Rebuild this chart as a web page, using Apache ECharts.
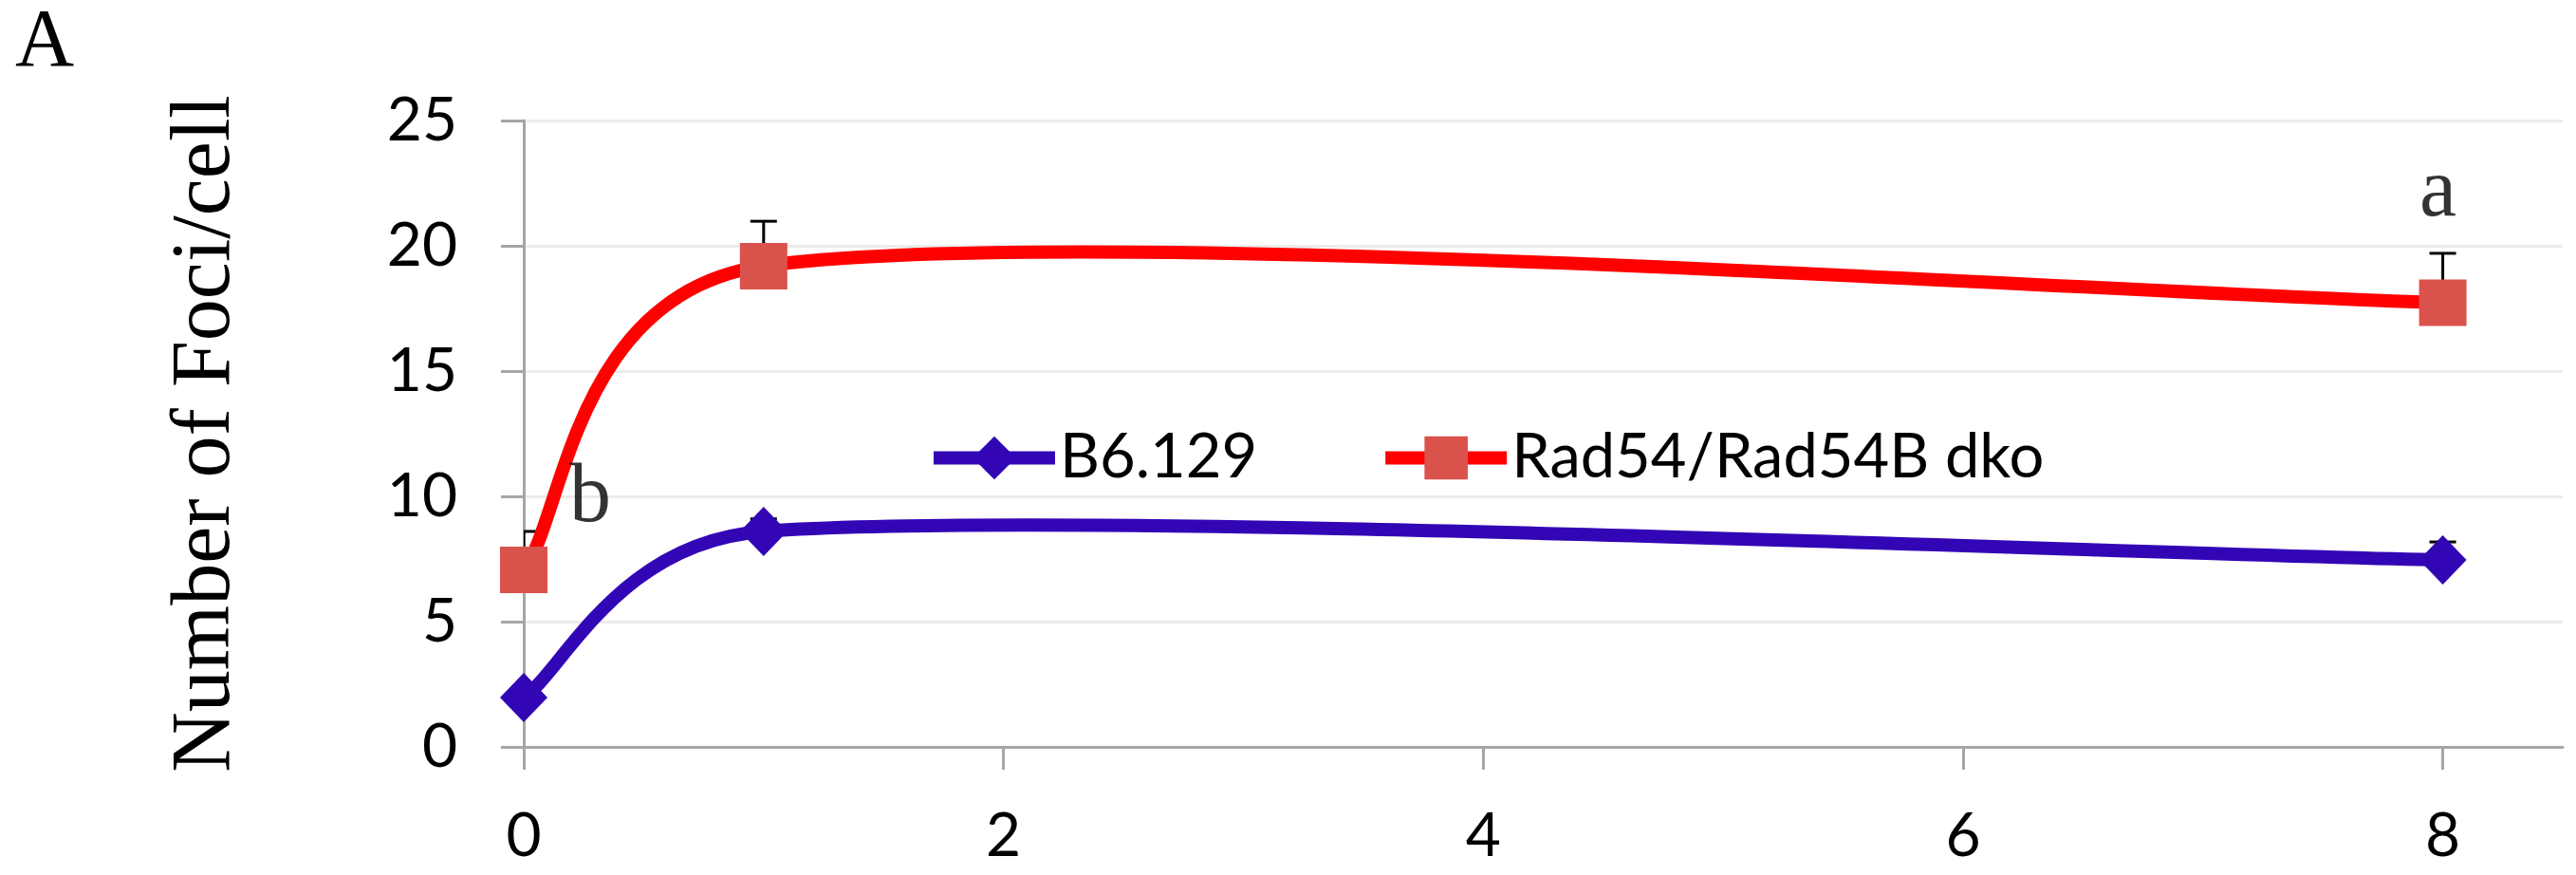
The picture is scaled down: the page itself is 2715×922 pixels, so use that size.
<!DOCTYPE html>
<html><head><meta charset="utf-8">
<script src="https://cdn.jsdelivr.net/npm/echarts@6/dist/echarts.min.js"></script>
<style>html,body{margin:0;padding:0;background:#fff}#c{width:2715px;height:922px}</style>
</head><body><div id="c"></div>
<script>
// ---- data ----
const timePoints = [0, 1, 8];
const seriesNames = ['B6.129', 'Rad54/Rad54B dko'];
const b6Mean = [1.97, 8.6, 7.46];
const b6Upper = [2.4, 9.1, 8.18];
const dkoMean = [7.06, 19.19, 17.73];
const dkoUpper = [8.6, 20.98, 19.7];
const xTicks = [0, 2, 4, 6, 8];
const annotText = ['a', 'b'];
const annotX = [7.98, 0.277];
const annotY = [22.1, 9.9];

const BLUE = '#3306B5', RED_LINE = '#FF0000', RED_MARK = '#DA524C';
const AXIS = '#A6A6A6', GRID = '#ECECEC';
const LABEL_FONT = 'Lato', SERIF = 'Liberation Serif';

function pairs(xs, ys) { return xs.map((x, i) => [x, ys[i]]); }
function errData(xs, m, u) { return xs.map((x, i) => [x, m[i], u[i]]); }

// Excel-style smoothed line (Catmull-Rom Bezier, limited control arms)
function excelSmoothPath(pts) {
  const n = pts.length;
  const dist = (a, b) => Math.hypot(a[0] - b[0], a[1] - b[1]);
  let d = 'M' + pts[0][0] + ' ' + pts[0][1];
  for (let i = 0; i < n - 1; i++) {
    const p0 = pts[Math.max(i - 1, 0)], p1 = pts[i], p2 = pts[i + 1], p3 = pts[Math.min(i + 2, n - 1)];
    const d12 = dist(p1, p2), d02 = dist(p0, p2), d13 = dist(p1, p3);
    const f1 = d02 > 0 ? Math.min(1 / 6, d12 / (2 * d02)) : 0;
    const f2 = d13 > 0 ? Math.min(1 / 6, d12 / (2 * d13)) : 0;
    const c1 = [p1[0] + (p2[0] - p0[0]) * f1, p1[1] + (p2[1] - p0[1]) * f1];
    const c2 = [p2[0] - (p3[0] - p1[0]) * f2, p2[1] - (p3[1] - p1[1]) * f2];
    d += ' C' + c1[0] + ' ' + c1[1] + ' ' + c2[0] + ' ' + c2[1] + ' ' + p2[0] + ' ' + p2[1];
  }
  return d;
}

function curveSeries(name, ys, color) {
  return {
    type: 'custom', name: name + ' curve', z: 2, silent: true,
    data: [[timePoints[0], ys[0]]],
    renderItem: function (params, api) {
      const pts = timePoints.map((x, i) => api.coord([x, ys[i]]));
      return { type: 'path', shape: { pathData: excelSmoothPath(pts) },
        style: { fill: 'none', stroke: color, lineWidth: 14, lineCap: 'round', lineJoin: 'round' } };
    }
  };
}

function errorSeries(name, data) {
  return {
    type: 'custom', name: name + ' error', z: 1, silent: true, clip: true,
    encode: { x: 0, y: [1, 2] },
    data: data,
    renderItem: function (params, api) {
      const x = api.value(0);
      const lo = api.coord([x, api.value(1)]), hi = api.coord([x, api.value(2)]);
      const st = { stroke: '#000', lineWidth: 3 };
      return { type: 'group', children: [
        { type: 'line', shape: { x1: lo[0], y1: lo[1], x2: hi[0], y2: hi[1] }, style: st },
        { type: 'line', shape: { x1: hi[0] - 14, y1: hi[1], x2: hi[0] + 14, y2: hi[1] }, style: st }
      ] };
    }
  };
}

const chart = echarts.init(document.getElementById('c'), null, { renderer: 'canvas' });
chart.setOption({
  backgroundColor: '#fff',
  animation: false,
  grid: { left: 552, right: 14, top: 127, bottom: 135, containLabel: false },
  graphic: [{ type: 'text', left: 16, top: 3, style: { text: 'A', font: '86px "Liberation Serif"', fill: '#000' } }],
  legend: {
    left: 977, top: 450, orient: 'horizontal', padding: 0,
    itemWidth: 128, itemHeight: 57, itemGap: 128,
    data: [
      { name: seriesNames[0], lineStyle: { color: BLUE, width: 14, opacity: 1 } },
      { name: seriesNames[1], lineStyle: { color: RED_LINE, width: 14, opacity: 1 } }
    ],
    lineStyle: { width: 14, opacity: 1 },
    textStyle: { fontFamily: LABEL_FONT, fontSize: 65, color: '#000' }
  },
  xAxis: {
    type: 'value', min: 0, max: 8.5,
    axisLine: { show: true, onZero: false, lineStyle: { color: AXIS, width: 3 } },
    axisTick: { show: true, customValues: xTicks, length: 24, lineStyle: { color: AXIS, width: 3 } },
    axisLabel: { customValues: xTicks, margin: 62, fontFamily: LABEL_FONT, fontSize: 64, color: '#000' },
    splitLine: { show: false }
  },
  yAxis: {
    type: 'value', min: 0, max: 25, interval: 5,
    name: 'Number of Foci/cell', nameLocation: 'middle', nameRotate: 90, nameGap: 290,
    nameTextStyle: { fontFamily: SERIF, fontSize: 88, color: '#000' },
    axisLine: { show: true, lineStyle: { color: AXIS, width: 3 } },
    axisTick: { show: true, length: 24, lineStyle: { color: AXIS, width: 3 } },
    axisLabel: { margin: 70, fontFamily: LABEL_FONT, fontSize: 64, color: '#000' },
    splitLine: { show: true, lineStyle: { color: GRID, width: 3 } }
  },
  series: [
    errorSeries(seriesNames[0], errData(timePoints, b6Mean, b6Upper)),
    errorSeries(seriesNames[1], errData(timePoints, dkoMean, dkoUpper)),
    curveSeries(seriesNames[0], b6Mean, BLUE),
    curveSeries(seriesNames[1], dkoMean, RED_LINE),
    {
      type: 'line', name: seriesNames[0], z: 3, data: pairs(timePoints, b6Mean),
      symbol: 'diamond', symbolSize: [50, 52], showAllSymbol: true,
      itemStyle: { color: BLUE }, lineStyle: { color: BLUE, width: 14, opacity: 0 }
    },
    {
      type: 'line', name: seriesNames[1], z: 3, data: pairs(timePoints, dkoMean),
      symbol: 'rect', symbolSize: [50, 49], showAllSymbol: true,
      itemStyle: { color: RED_MARK }, lineStyle: { color: RED_LINE, width: 14, opacity: 0 }
    },
    {
      type: 'scatter', name: 'annotations', z: 5, silent: true, symbolSize: 0,
      data: annotX.map((x, i) => ({ value: [x, annotY[i]], label: { formatter: annotText[i] } })),
      label: { show: true, position: 'inside', fontFamily: SERIF, fontSize: 88, color: '#000' }
    }
  ]
});
</script></body></html>
